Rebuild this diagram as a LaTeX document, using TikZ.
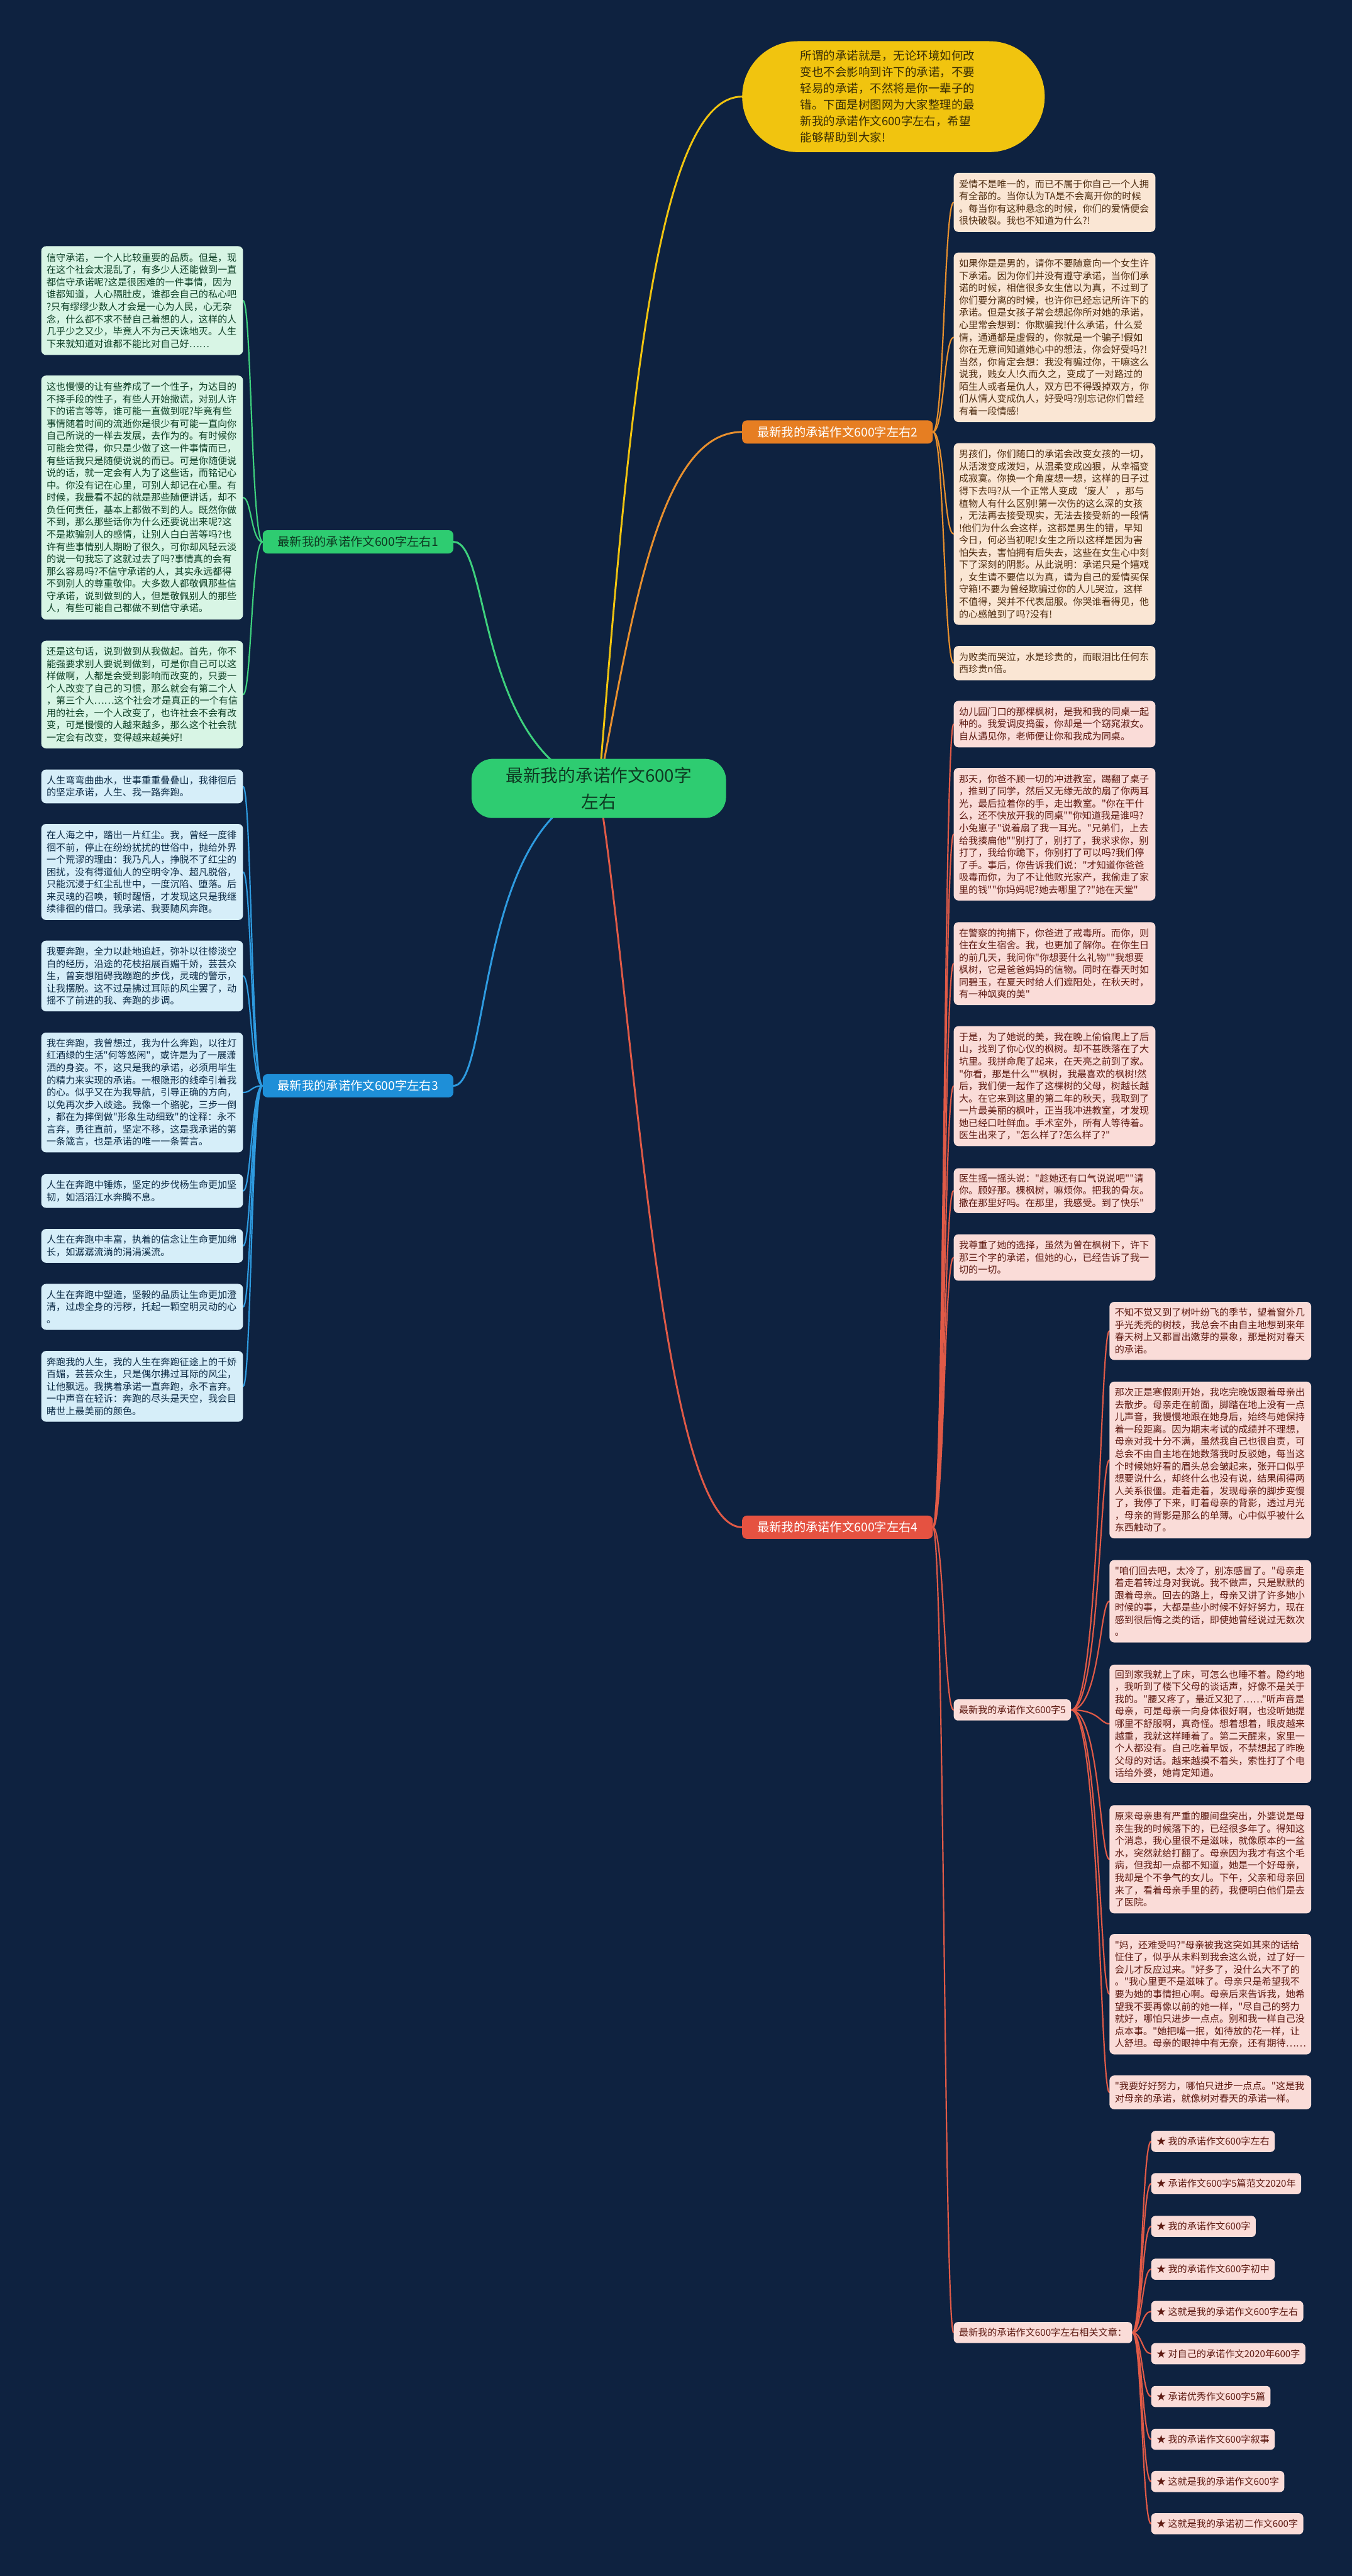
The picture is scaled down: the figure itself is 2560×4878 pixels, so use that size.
\documentclass[tikz,border=0pt]{standalone}
\usepackage{fontspec}
\newfontfamily\cjk{Noto Sans CJK SC}
\usetikzlibrary{backgrounds}
\definecolor{bgc}{HTML}{0E2240}
\definecolor{cmain}{HTML}{2ECC71}
\definecolor{cdark}{HTML}{0E3A22}
\definecolor{gline}{HTML}{3ED17D}
\definecolor{gfill}{HTML}{D8F5E5}
\definecolor{gtext}{HTML}{0D3F25}
\definecolor{omain}{HTML}{E67E22}
\definecolor{oline}{HTML}{E8902E}
\definecolor{ofill}{HTML}{FAE6D4}
\definecolor{otext}{HTML}{4E2C10}
\definecolor{bmain}{HTML}{1E8FD8}
\definecolor{bline}{HTML}{2E9BE0}
\definecolor{bfill}{HTML}{D6EEF9}
\definecolor{btext}{HTML}{0B2A45}
\definecolor{rmain}{HTML}{E55241}
\definecolor{rline}{HTML}{E05A47}
\definecolor{rfill}{HTML}{FADCD8}
\definecolor{rtext}{HTML}{5E1A12}
\definecolor{ymain}{HTML}{F1C40F}
\definecolor{ytext}{HTML}{3A2E05}
\newcommand\leaffont{\cjk\fontsize{18pt}{23.3pt}\selectfont}
\newcommand\brfont{\cjk\fontsize{23pt}{28pt}\selectfont}
\newcommand\cfont{\cjk\fontsize{33pt}{50pt}\selectfont}
\newcommand\yfont{\cjk\fontsize{22pt}{31pt}\selectfont}
\tikzset{
  leaf/.style={anchor=north west, rounded corners=9pt, text width=362pt, inner xsep=10pt, inner ysep=6pt, align=left, font=\leaffont},
  gleaf/.style={leaf, fill=gfill, text=gtext},
  oleaf/.style={leaf, fill=ofill, text=otext},
  bleaf/.style={leaf, fill=bfill, text=btext},
  rleaf/.style={leaf, fill=rfill, text=rtext},
  pinkbox/.style={anchor=west, rounded corners=8pt, fill=rfill, text=rtext, inner xsep=10pt, inner ysep=0pt, minimum height=40pt, font=\leaffont},
  branch/.style={rounded corners=9pt, minimum width=361pt, minimum height=44pt, inner sep=0pt, font=\brfont},
  mainline/.style={line width=3.5pt, line cap=round},
  subline/.style={line width=2.6pt, line cap=round}
}
\begin{document}
\begin{tikzpicture}[x=1pt,y=-1pt]
\useasboundingbox (0,0) rectangle (2560,4878);

% center and main branches
\node[fill=cmain, text=cdark, rounded corners=40pt, minimum width=482pt, minimum height=112pt, align=center, font=\cfont] (c) at (1134,1493) {最新我的承诺作文600字\\左右};
\node[fill=ymain, text=ytext, rounded corners=105pt, minimum width=573pt, minimum height=210pt, text width=352pt, align=left, font=\yfont] (y) at (1692,183) {所谓的承诺就是，无论环境如何改\\变也不会影响到许下的承诺，不要\\轻易的承诺，不然将是你一辈子的\\错。下面是树图网为大家整理的最\\新我的承诺作文600字左右，希望\\能够帮助到大家!};
\node[branch, fill=cmain, text=cdark] (g) at (678,1026) {最新我的承诺作文600字左右1};
\node[branch, fill=omain, text=white] (o) at (1586,818) {最新我的承诺作文600字左右2};
\node[branch, fill=bmain, text=white] (b) at (678,2056) {最新我的承诺作文600字左右3};
\node[branch, fill=rmain, text=white] (r) at (1586,2892) {最新我的承诺作文600字左右4};

% branch 1 leaves
\node[gleaf, minimum height=206pt] (g1) at (78,466) {信守承诺，一个人比较重要的品质。但是，现\\在这个社会太混乱了，有多少人还能做到一直\\都信守承诺呢?这是很困难的一件事情，因为\\谁都知道，人心隔肚皮，谁都会自己的私心吧\\?只有缪缪少数人才会是一心为人民，心无杂\\念，什么都不求不替自己着想的人，这样的人\\几乎少之又少，毕竟人不为己天诛地灭。人生\\下来就知道对谁都不能比对自己好……};
\node[gleaf, minimum height=462pt] (g2) at (78,711) {这也慢慢的让有些养成了一个性子，为达目的\\不择手段的性子，有些人开始撒谎，对别人许\\下的诺言等等，谁可能一直做到呢?毕竟有些\\事情随着时间的流逝你是很少有可能一直向你\\自己所说的一样去发展，去作为的。有时候你\\可能会觉得，你只是少做了这一件事情而已，\\有些话我只是随便说说的而已。可是你随便说\\说的话，就一定会有人为了这些话，而铭记心\\中。你没有记在心里，可别人却记在心里。有\\时候，我最看不起的就是那些随便讲话，却不\\负任何责任，基本上都做不到的人。既然你做\\不到，那么那些话你为什么还要说出来呢?这\\不是欺骗别人的感情，让别人白白苦等吗?也\\许有些事情别人期盼了很久，可你却风轻云淡\\的说一句我忘了这就过去了吗?事情真的会有\\那么容易吗?不信守承诺的人，其实永远都得\\不到别人的尊重敬仰。大多数人都敬佩那些信\\守承诺，说到做到的人，但是敬佩别人的那些\\人，有些可能自己都做不到信守承诺。};
\node[gleaf, minimum height=204pt] (g3) at (78,1213) {还是这句话，说到做到从我做起。首先，你不\\能强要求别人要说到做到，可是你自己可以这\\样做啊，人都是会受到影响而改变的，只要一\\个人改变了自己的习惯，那么就会有第二个人\\，第三个人……这个社会才是真正的一个有信\\用的社会，一个人改变了，也许社会不会有改\\变，可是慢慢的人越来越多，那么这个社会就\\一定会有改变，变得越来越美好!};

% branch 3 leaves
\node[bleaf, minimum height=64pt] (b1) at (78,1457) {人生弯弯曲曲水，世事重重叠叠山，我徘徊后\\的坚定承诺，人生、我一路奔跑。};
\node[bleaf, minimum height=182pt] (b2) at (78,1560) {在人海之中，踏出一片红尘。我，曾经一度徘\\徊不前，停止在纷纷扰扰的世俗中，抛给外界\\一个荒谬的理由：我乃凡人，挣脱不了红尘的\\困扰，没有得道仙人的空明令净、超凡脱俗，\\只能沉浸于红尘乱世中，一度沉陷、堕落。后\\来灵魂的召唤，顿时醒悟，才发现这只是我继\\续徘徊的借口。我承诺、我要随风奔跑。};
\node[bleaf, minimum height=134pt] (b3) at (78,1781) {我要奔跑，全力以赴地追赶，弥补以往惨淡空\\白的经历，沿途的花枝招展百媚千娇，芸芸众\\生，曾妄想阻碍我蹦跑的步伐，灵魂的警示，\\让我摆脱。这不过是拂过耳际的风尘罢了，动\\摇不了前进的我、奔跑的步调。};
\node[bleaf, minimum height=227pt] (b4) at (78,1955) {我在奔跑，我曾想过，我为什么奔跑，以往灯\\红酒绿的生活"何等悠闲"，或许是为了一展潇\\洒的身姿。不，这只是我的承诺，必须用毕生\\的精力来实现的承诺。一根隐形的线牵引着我\\的心。似乎又在为我导航，引导正确的方向，\\以免再次步入歧途。我像一个骆驼，三步一倒\\，都在为摔倒做"形象生动细致"的诠释：永不\\言弃，勇往直前，坚定不移，这是我承诺的第\\一条箴言，也是承诺的唯一一条誓言。};
\node[bleaf, minimum height=64pt] (b5) at (78,2223) {人生在奔跑中锤炼，坚定的步伐杨生命更加坚\\韧，如滔滔江水奔腾不息。};
\node[bleaf, minimum height=64pt] (b6) at (78,2327) {人生在奔跑中丰富，执着的信念让生命更加绵\\长，如潺潺流淌的涓涓溪流。};
\node[bleaf, minimum height=87pt] (b7) at (78,2431) {人生在奔跑中塑造，坚毅的品质让生命更加澄\\清，过虑全身的污秽，托起一颗空明灵动的心\\。};
\node[bleaf, minimum height=134pt] (b8) at (78,2558) {奔跑我的人生，我的人生在奔跑征途上的千娇\\百媚，芸芸众生，只是偶尔拂过耳际的风尘，\\让他飘远。我携着承诺一直奔跑，永不言弃。\\一中声音在轻诉：奔跑的尽头是天空，我会目\\睹世上最美丽的颜色。};

% branch 2 leaves
\node[oleaf, minimum height=112pt] (o1) at (1806,327) {爱情不是唯一的，而已不属于你自己一个人拥\\有全部的。当你认为TA是不会离开你的时候\\。每当你有这种悬念的时候，你们的爱情便会\\很快破裂。我也不知道为什么?!};
\node[oleaf, minimum height=321pt] (o2) at (1806,478) {如果你是是男的，请你不要随意向一个女生许\\下承诺。因为你们并没有遵守承诺，当你们承\\诺的时候，相信很多女生信以为真，不过到了\\你们要分离的时候，也许你已经忘记所许下的\\承诺。但是女孩子常会想起你所对她的承诺，\\心里常会想到：你欺骗我!什么承诺，什么爱\\情，通通都是虚假的，你就是一个骗子!假如\\你在无意间知道她心中的想法，你会好受吗?!\\当然，你肯定会想：我没有骗过你，干嘛这么\\说我，贱女人!久而久之，变成了一对路过的\\陌生人或者是仇人，双方巴不得毁掉双方，你\\们从情人变成仇人，好受吗?别忘记你们曾经\\有着一段情感!};
\node[oleaf, minimum height=344pt] (o3) at (1806,839) {男孩们，你们随口的承诺会改变女孩的一切，\\从活泼变成泼妇，从温柔变成凶狠，从幸福变\\成寂寞。你换一个角度想一想，这样的日子过\\得下去吗?从一个正常人变成‘废人’，那与\\植物人有什么区别!第一次伤的这么深的女孩\\，无法再去接受现实，无法去接受新的一段情\\!他们为什么会这样，这都是男生的错，早知\\今日，何必当初呢!女生之所以这样是因为害\\怕失去，害怕拥有后失去，这些在女生心中刻\\下了深刻的阴影。从此说明：承诺只是个嬉戏\\，女生请不要信以为真，请为自己的爱情买保\\守箱!不要为曾经欺骗过你的人儿哭泣，这样\\不值得，哭并不代表屈服。你哭谁看得见，他\\的心感触到了吗?没有!};
\node[oleaf, minimum height=65pt] (o4) at (1806,1223) {为败类而哭泣，水是珍贵的，而眼泪比任何东\\西珍贵n倍。};

% branch 4 leaves
\node[rleaf, minimum height=88pt] (r1) at (1806,1327) {幼儿园门口的那棵枫树，是我和我的同桌一起\\种的。我爱调皮捣蛋，你却是一个窈窕淑女。\\自从遇见你，老师便让你和我成为同桌。};
\node[rleaf, minimum height=251pt] (r2) at (1806,1454) {那天，你爸不顾一切的冲进教室，踢翻了桌子\\，推到了同学，然后又无缘无故的扇了你两耳\\光，最后拉着你的手，走出教室。"你在干什\\么，还不快放开我的同桌""你知道我是谁吗?\\小兔崽子"说着扇了我一耳光。"兄弟们，上去\\给我揍扁他""别打了，别打了，我求求你，别\\打了，我给你跪下，你别打了可以吗?我们停\\了手。事后，你告诉我们说："才知道你爸爸\\吸毒而你，为了不让他败光家产，我偷走了家\\里的钱""你妈妈呢?她去哪里了?"她在天堂"};
\node[rleaf, minimum height=157pt] (r3) at (1806,1746) {在警察的拘捕下，你爸进了戒毒所。而你，则\\住在女生宿舍。我，也更加了解你。在你生日\\的前几天，我问你"你想要什么礼物""我想要\\枫树，它是爸爸妈妈的信物。同时在春天时如\\同碧玉，在夏天时给人们遮阳处，在秋天时，\\有一种飒爽的美"};
\node[rleaf, minimum height=227pt] (r4) at (1806,1943) {于是，为了她说的美，我在晚上偷偷爬上了后\\山，找到了你心仪的枫树。却不甚跌落在了大\\坑里。我拼命爬了起来，在天亮之前到了家。\\"你看，那是什么""枫树，我最喜欢的枫树!然\\后，我们便一起作了这棵树的父母，树越长越\\大。在它来到这里的第二年的秋天，我取到了\\一片最美丽的枫叶，正当我冲进教室，才发现\\她已经口吐鲜血。手术室外，所有人等待着。\\医生出来了，"怎么样了?怎么样了?"};
\node[rleaf, minimum height=85pt] (r5) at (1806,2212) {医生摇一摇头说："趁她还有口气说说吧""请\\你。顾好那。棵枫树，嘛烦你。把我的骨灰。\\撒在那里好吗。在那里，我感受。到了快乐"};
\node[rleaf, minimum height=88pt] (r6) at (1806,2337) {我尊重了她的选择，虽然为曾在枫树下，许下\\那三个字的承诺，但她的心，已经告诉了我一\\切的一切。};
\node[pinkbox] (f) at (1806,3238) {最新我的承诺作文600字5};
\node[pinkbox] (rel) at (1806,4417) {最新我的承诺作文600字左右相关文章：};

% branch 5 leaves
\node[rleaf, minimum height=110pt] (f1) at (2101,2465) {不知不觉又到了树叶纷飞的季节，望着窗外几\\乎光秃秃的树枝，我总会不由自主地想到来年\\春天树上又都冒出嫩芽的景象，那是树对春天\\的承诺。};
\node[rleaf, minimum height=297pt] (f2) at (2101,2616) {那次正是寒假刚开始，我吃完晚饭跟着母亲出\\去散步。母亲走在前面，脚踏在地上没有一点\\儿声音，我慢慢地跟在她身后，始终与她保持\\着一段距离。因为期末考试的成绩并不理想，\\母亲对我十分不满，虽然我自己也很自责，可\\总会不由自主地在她数落我时反驳她，每当这\\个时候她好看的眉头总会皱起来，张开口似乎\\想要说什么，却终什么也没有说，结果闹得两\\人关系很僵。走着走着，发现母亲的脚步变慢\\了，我停了下来，盯着母亲的背影，透过月光\\，母亲的背影是那么的单薄。心中似乎被什么\\东西触动了。};
\node[rleaf, minimum height=156pt] (f3) at (2101,2954) {"咱们回去吧，太冷了，别冻感冒了。"母亲走\\着走着转过身对我说。我不做声，只是默默的\\跟着母亲。回去的路上，母亲又讲了许多她小\\时候的事，大都是些小时候不好好努力，现在\\感到很后悔之类的话，即使她曾经说过无数次\\。};
\node[rleaf, minimum height=224pt] (f4) at (2101,3152) {回到家我就上了床，可怎么也睡不着。隐约地\\，我听到了楼下父母的谈话声，好像不是关于\\我的。"腰又疼了，最近又犯了……"听声音是\\母亲，可是母亲一向身体很好啊，也没听她提\\哪里不舒服啊，真奇怪。想着想着，眼皮越来\\越重，我就这样睡着了。第二天醒来，家里一\\个人都没有。自己吃着早饭，不禁想起了昨晚\\父母的对话。越来越摸不着头，索性打了个电\\话给外婆，她肯定知道。};
\node[rleaf, minimum height=205pt] (f5) at (2101,3418) {原来母亲患有严重的腰间盘突出，外婆说是母\\亲生我的时候落下的，已经很多年了。得知这\\个消息，我心里很不是滋味，就像原本的一盆\\水，突然就给打翻了。母亲因为我才有这个毛\\病，但我却一点都不知道，她是一个好母亲，\\我却是个不争气的女儿。下午，父亲和母亲回\\来了，看着母亲手里的药，我便明白他们是去\\了医院。};
\node[rleaf, minimum height=228pt] (f6) at (2101,3662) {"妈，还难受吗?"母亲被我这突如其来的话给\\怔住了，似乎从未料到我会这么说，过了好一\\会儿才反应过来。"好多了，没什么大不了的\\。"我心里更不是滋味了。母亲只是希望我不\\要为她的事情担心啊。母亲后来告诉我，她希\\望我不要再像以前的她一样，"尽自己的努力\\就好，哪怕只进步一点点。别和我一样自己没\\点本事。"她把嘴一抿，如待放的花一样，让\\人舒坦。母亲的眼神中有无奈，还有期待……};
\node[rleaf, minimum height=64pt] (f7) at (2101,3930) {"我要好好努力，哪怕只进步一点点。"这是我\\对母亲的承诺，就像树对春天的承诺一样。};

% related articles
\node[pinkbox] (s1) at (2180,4055) {★ 我的承诺作文600字左右};
\node[pinkbox] (s2) at (2180,4135) {★ 承诺作文600字5篇范文2020年};
\node[pinkbox] (s3) at (2180,4216) {★ 我的承诺作文600字};
\node[pinkbox] (s4) at (2180,4297) {★ 我的承诺作文600字初中};
\node[pinkbox] (s5) at (2180,4377) {★ 这就是我的承诺作文600字左右};
\node[pinkbox] (s6) at (2180,4457) {★ 对自己的承诺作文2020年600字};
\node[pinkbox] (s7) at (2180,4538) {★ 承诺优秀作文600字5篇};
\node[pinkbox] (s8) at (2180,4619) {★ 我的承诺作文600字叙事};
\node[pinkbox] (s9) at (2180,4699) {★ 这就是我的承诺作文600字};
\node[pinkbox] (s10) at (2180,4779) {★ 这就是我的承诺初二作文600字};

\begin{pgfonlayer}{background}
\fill[bgc] (0,0) rectangle (2560,4878);
\coordinate (gt) at (476,0);
\coordinate (ot) at (1788,0);
\coordinate (ft) at (2083,0);
\coordinate (st) at (2163,0);
\draw[mainline, ymain] (c.center) .. controls (1190,800) and (1240,183) .. (y.west);
\draw[mainline, oline] (c.center) .. controls (1200,1150) and (1250,818) .. (o.west);
\draw[mainline, rline] (c.center) .. controls (1200,1900) and (1250,2892) .. (r.west);
\draw[mainline, gline] (c.center) .. controls (900,1420) and (930,1026) .. (g.east);
\draw[mainline, bline] (c.center) .. controls (900,1560) and (930,2056) .. (b.east);
\foreach \n in {g1,g2,g3}
  \draw[subline, gline] (g.west) .. controls (gt |- g.west) and (gt |- \n.east) .. (\n.east);
\foreach \n in {b1,b2,b3,b4,b5,b6,b7,b8}
  \draw[subline, bline] (b.west) .. controls (gt |- b.west) and (gt |- \n.east) .. (\n.east);
\foreach \n in {o1,o2,o3,o4}
  \draw[subline, oline] (o.east) .. controls (ot |- o.east) and (ot |- \n.west) .. (\n.west);
\foreach \n in {r1,r2,r3,r4,r5,r6,f,rel}
  \draw[subline, rline] (r.east) .. controls (ot |- r.east) and (ot |- \n.west) .. (\n.west);
\foreach \n in {f1,f2,f3,f4,f5,f6,f7}
  \draw[subline, rline] (f.east) .. controls (ft |- f.east) and (ft |- \n.west) .. (\n.west);
\foreach \n in {s1,s2,s3,s4,s5,s6,s7,s8,s9,s10}
  \draw[subline, rline] (rel.east) .. controls (st |- rel.east) and (st |- \n.west) .. (\n.west);
\end{pgfonlayer}
\end{tikzpicture}
\end{document}
